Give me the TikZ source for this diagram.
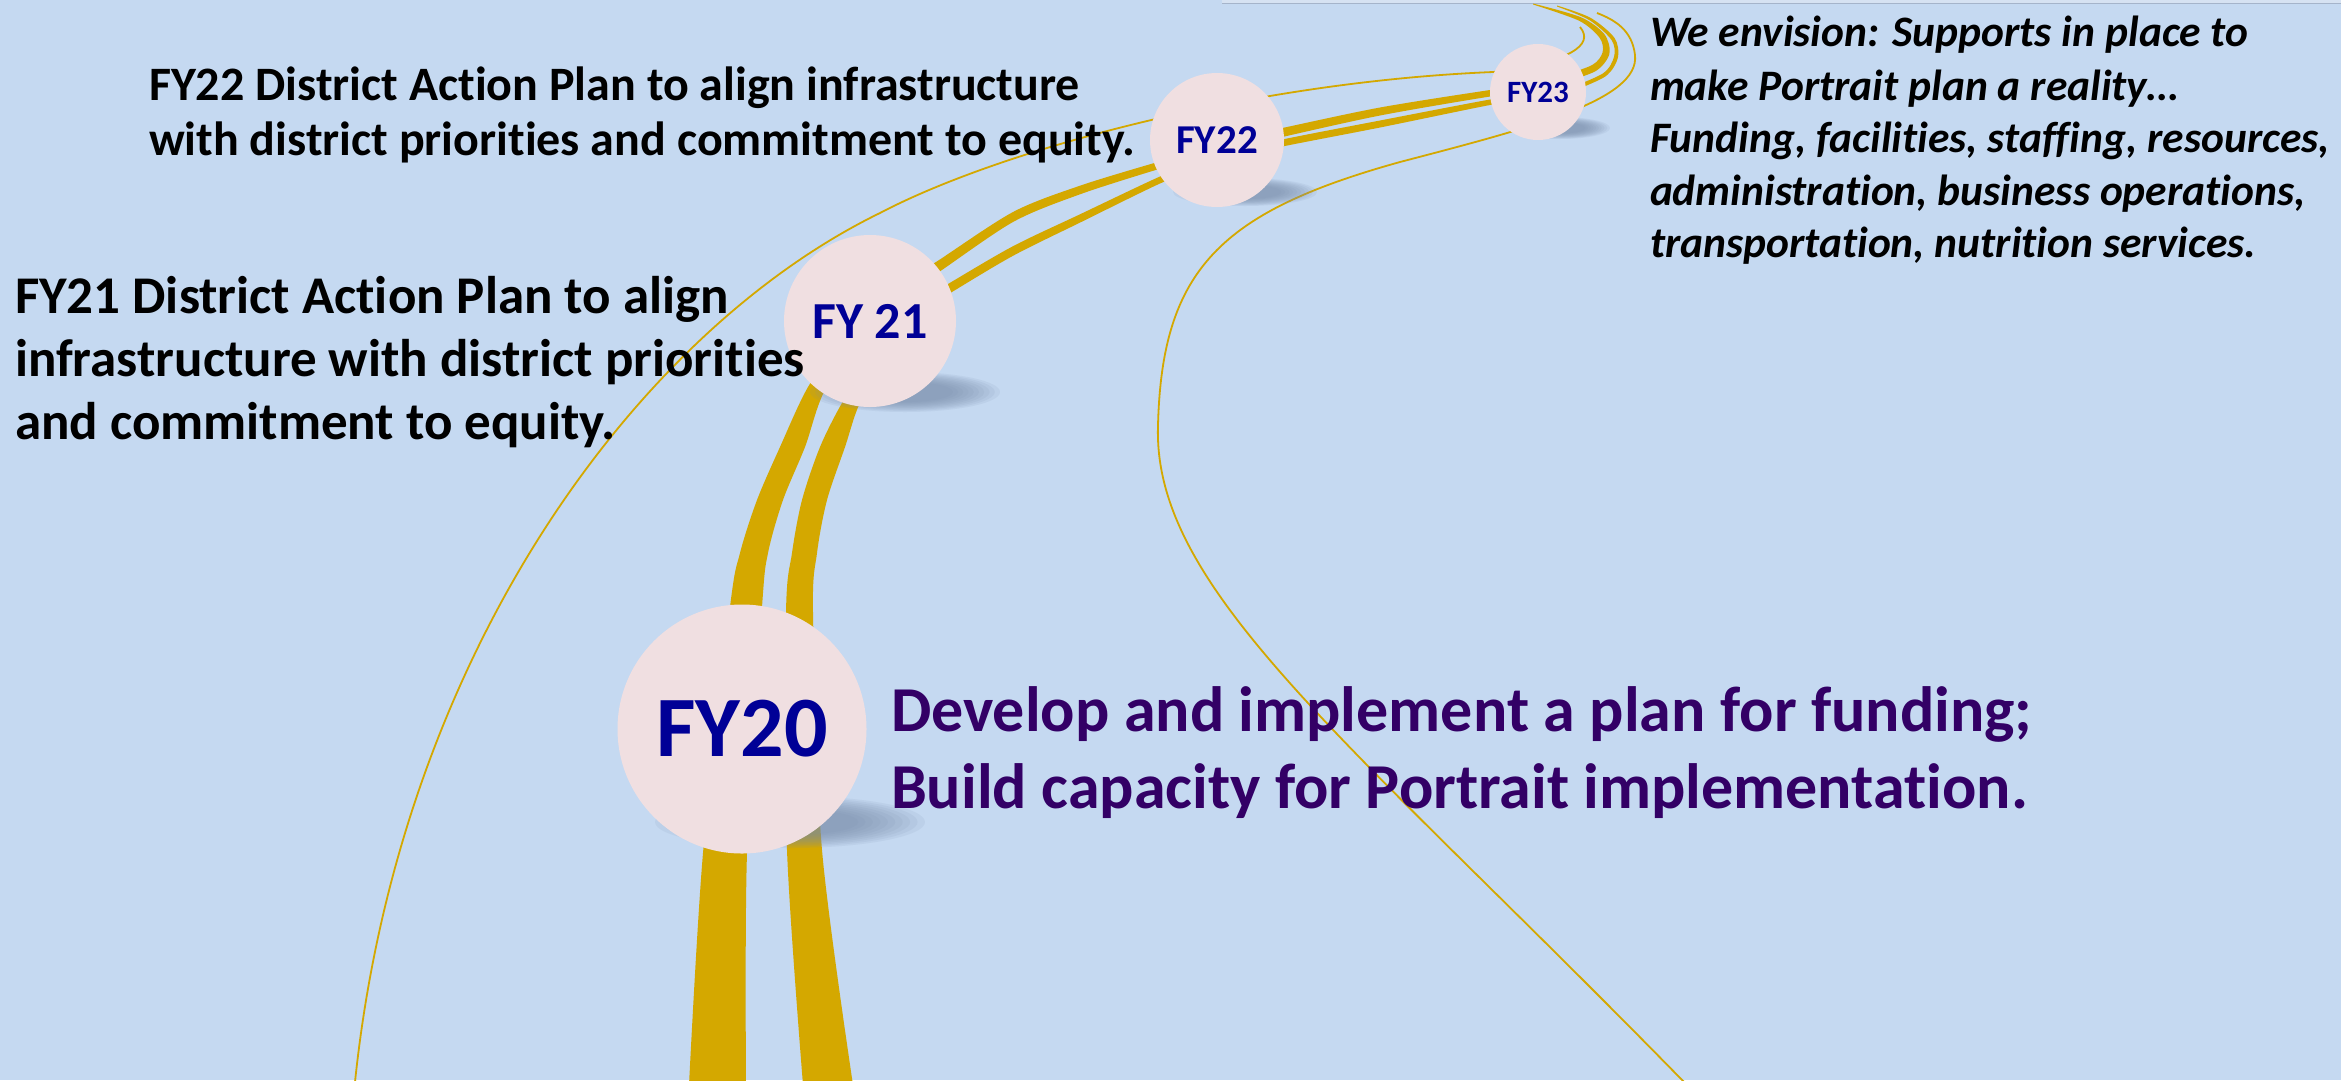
\documentclass[tikz,border=0pt]{standalone}
\usepackage{fontspec}
\setmainfont{Carlito}[Ligatures=NoCommon]
\definecolor{bg}{RGB}{197,217,241}
\definecolor{gold}{RGB}{212,168,0}
\definecolor{discfill}{RGB}{240,223,225}
\definecolor{fyblue}{RGB}{0,0,150}
\definecolor{purp}{RGB}{51,0,102}
\definecolor{shad}{RGB}{120,140,170}
\definecolor{stripc}{RGB}{214,226,242}
\definecolor{stripl}{RGB}{165,180,202}
\newcommand\softshadow[4]{%
  \foreach \k in {0,...,9}{%
    \fill[shad,opacity=0.11] (#1,#2) ellipse [x radius={#3*(1-0.055*\k)*1pt}, y radius={#4*(1-0.055*\k)*1pt}];}}
\begin{document}
\begin{tikzpicture}[x=1pt,y=-1pt,
  band/.style={fill=gold},
  thinline/.style={draw=gold, line width=1.8pt},
  disc/.style={circle, fill=discfill, inner sep=0pt, text=fyblue},
  txt/.style={anchor=base west, inner sep=0pt, outer sep=0pt}]
\fill[bg] (0,0) rectangle (2341,1080);
\useasboundingbox (0,0) rectangle (2341,1080);
% top strip
\fill[stripc] (1222,0) rectangle (2341,3);
\draw[stripl, line width=1.2pt] (1222,3.5) -- (2341,3.5);
% ---- bands, lower part
\fill[band] plot[smooth] coordinates {(689,1085) (703,853) (730,607) (740,553) (757,500) (780,447) (808,387) (845,335)}
  -- plot[smooth] coordinates {(875,345) (827,387) (805,447) (783,500) (768,553) (762,607) (747,853) (746,1085)} -- cycle;
\fill[band] plot[smooth] coordinates {(803,1085) (787,850) (786,613) (792,553) (802,500) (820,447) (842,403) (870,360)}
  -- plot[smooth] coordinates {(885,370) (860,403) (845,447) (827,500) (817,553) (813,613) (822,850) (853,1085)} -- cycle;
% FY21 -> FY22
\fill[band] plot[smooth] coordinates {(900,284) (936,262) (1013,212) (1080,185.7) (1155,162.8) (1190,153.5)}
  -- plot[smooth] coordinates {(1190,160.5) (1155,170.2) (1080,194.3) (1013,222) (936,274) (900,296)} -- cycle;
\fill[band] plot[smooth] coordinates {(915,304) (950,282.8) (1013,246.2) (1080,214.3) (1160,176.5) (1192,165.3)}
  -- plot[smooth] coordinates {(1192,172.3) (1160,183.5) (1080,222.6) (1013,255.8) (950,293.2) (915,315)} -- cycle;
% FY22 -> FY23
\fill[band] plot[smooth] coordinates {(1240,137) (1280,128.5) (1380,107.5) (1490,90) (1530,85)}
  -- plot[smooth] coordinates {(1530,91.5) (1490,96.5) (1380,115.5) (1280,137.5) (1240,147)} -- cycle;
\fill[band] plot[smooth] coordinates {(1240,151) (1280,140) (1380,120.5) (1490,99.5) (1530,94)}
  -- plot[smooth] coordinates {(1530,99) (1490,105) (1380,127.5) (1280,147) (1240,157)} -- cycle;
% hooks beyond FY23
\fill[band] plot[smooth] coordinates {(1561,83.3) (1595.8,71) (1609.4,53.8) (1604.4,34.2) (1580.8,17.2) (1533,3.5)}
  -- plot[smooth] coordinates {(1533,4.5) (1579.2,20.8) (1599.6,37.8) (1602.6,52.2) (1592.2,65) (1559,76.7)} -- cycle;
\fill[band] plot[smooth] coordinates {(1565.8,93.8) (1605.1,76.6) (1617.9,57.5) (1614.5,38) (1590.7,17.9) (1557,5.5)}
  -- plot[smooth] coordinates {(1557,6.5) (1589.3,20.1) (1611.5,40) (1614.1,56.5) (1602.9,73.4) (1564.2,90.2)} -- cycle;
% thin lines
\draw[thinline] (355,1082) .. controls (400,650) and (640,330) .. (880,213)
  .. controls (1000,150) and (1250,82) .. (1493,72)
  .. controls (1570,62) and (1595,45) .. (1580,27);
\draw[thinline] (1684,1082) .. controls (1350,740) and (1152,590) .. (1158,425)
  .. controls (1162,270) and (1220,212) .. (1400,162)
  .. controls (1530,128) and (1640,100) .. (1635,55)
  .. controls (1632,30) and (1615,20) .. (1597,13);
% shadows
\softshadow{790}{822}{135}{26}
\softshadow{905}{392}{95}{20}
\softshadow{1245}{192}{72}{14}
\softshadow{1560}{128}{50}{11}
% discs
\node[disc, minimum size=249pt, font={\fontsize{86}{86}\selectfont\bfseries}] (c20) at (742,729) {FY20};
\node[disc, minimum size=172pt, font={\fontsize{52}{52}\selectfont\bfseries}] (c21) at (870,321) {FY 21};
\node[disc, minimum size=134pt, font={\fontsize{41}{41}\selectfont\bfseries}] (c22) at (1217,140) {FY22};
\node[disc, minimum size=96pt, font={\fontsize{31}{31}\selectfont\bfseries}] (c23) at (1538,92) {FY23};
% texts
\begin{scope}[every node/.style={txt, font={\fontsize{48}{48}\selectfont\bfseries}}]
\node (t22a) at (149,100) {FY22 District Action Plan to align infrastructure};
\node (t22b) at (149,155) {with district priorities and commitment to equity.};
\end{scope}
\begin{scope}[every node/.style={txt, font={\fontsize{53}{53}\selectfont\bfseries}}]
\node (t21a) at (15,313) {FY21 District Action Plan to align};
\node (t21b) at (15,376) {infrastructure with district priorities};
\node (t21c) at (15,439) {and commitment to equity.};
\end{scope}
\begin{scope}[every node/.style={txt, font={\fontsize{43.5}{43.5}\selectfont\bfseries\itshape}}]
\node (e1) at (1650,46) {We envision: Supports in place to};
\node (e2) at (1650,100) {make Portrait plan a reality…};
\node (e3) at (1650,152) {Funding, facilities, staffing, resources,};
\node (e4) at (1650,205) {administration, business operations,};
\node (e5) at (1650,257) {transportation, nutrition services.};
\end{scope}
\begin{scope}[every node/.style={txt, text=purp, font={\fontsize{64}{64}\selectfont\bfseries}}]
\node (p1) at (891,731) {Develop and implement a plan for funding;};
\node (p2) at (891,808) {Build capacity for Portrait implementation.};
\end{scope}
\end{tikzpicture}
\end{document}
